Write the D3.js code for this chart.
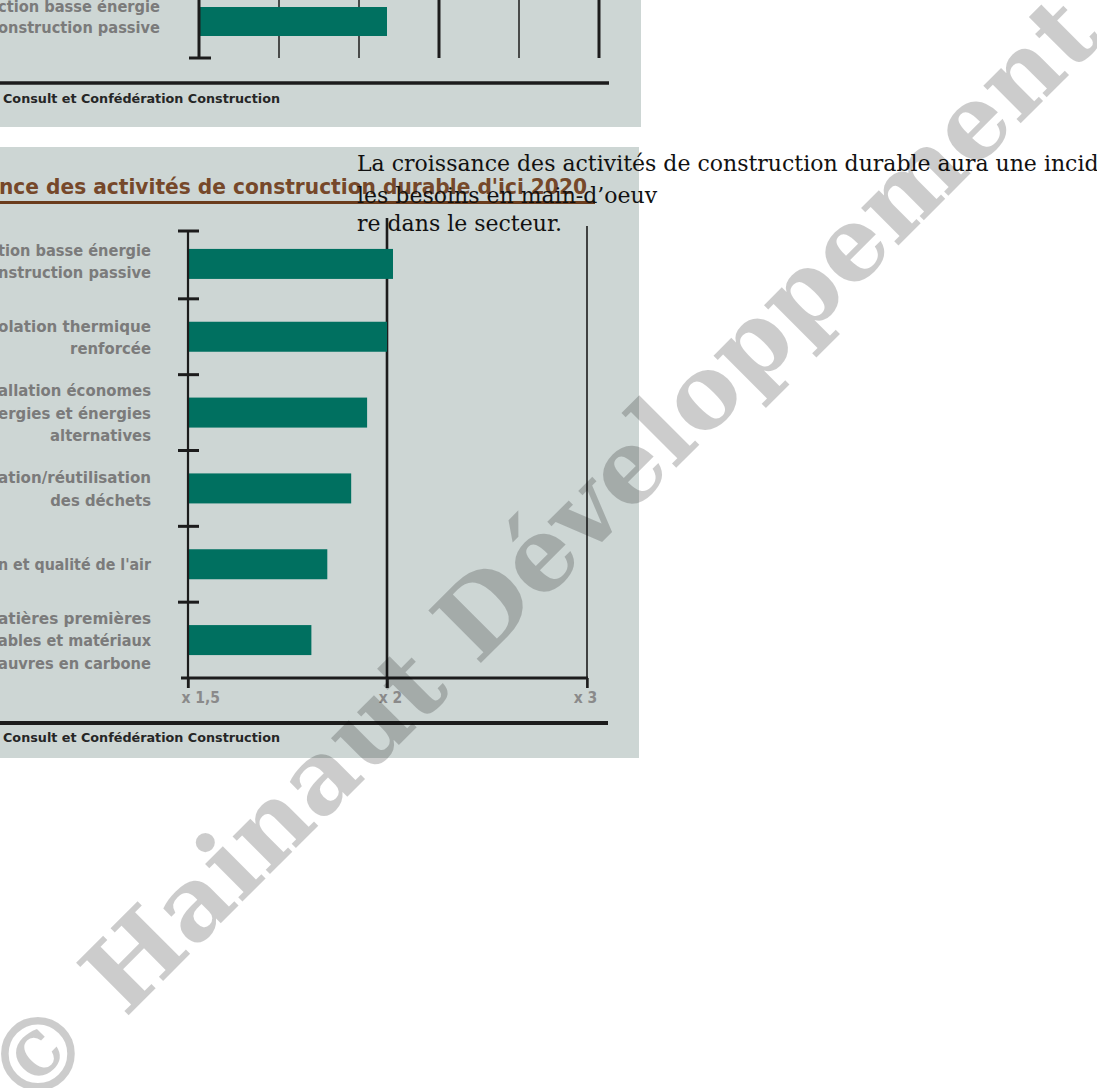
<!DOCTYPE html>
<html><head><meta charset="utf-8">
<script src="https://cdn.jsdelivr.net/npm/d3@7"></script>
<style>html,body{margin:0;padding:0;background:#fff;overflow:hidden}</style>
</head><body>
<svg id="c" width="1097" height="1088"></svg>
<script>
// ---- data ----
const categories = [
  "Construction basse énergie et construction passive",
  "Isolation thermique renforcée",
  "Installation économes en énergies et énergies alternatives",
  "Récupération/réutilisation des déchets",
  "Ventilation et qualité de l'air",
  "Matières premières renouvelables et matériaux pauvres en carbone"
];
const labelLines = [
  ["tion basse énergie", "nstruction passive"],
  ["olation thermique", "renforcée"],
  ["allation économes", "ergies et énergies", "alternatives"],
  ["ation/réutilisation", "des déchets"],
  ["n et qualité de l'air"],
  ["atières premières", "ables et matériaux", "auvres en carbone"]
];
const values = [2.03, 2.0, 1.95, 1.91, 1.85, 1.81];
const xTickValues = [1.5, 2, 3];
const xTickLabels = ["x 1,5", "x 2", "x 3"];

const topLabelLines = ["ction basse énergie", "onstruction passive"];
const topValue = 2.35;
const topGridValues = [1, 2, 3, 4, 5];
const topMajorGrid = [3, 5];

const titleText = "nce des activités de construction durable d'ici 2020";
const sourceText = "Consult et Confédération Construction";
const overlayLines = [
  "La croissance des activités de construction durable aura une incid",
  "les besoins en main-d\u2019oeuv",
  "re dans le secteur."
];
const watermarkText = "© Hainaut Développement";

// ---- styles ----
const BG = "#cdd6d4", BAR = "#007060", INK = "#1c1c1c", LABEL = "#7b7b7b", BROWN = "#76482a";
const COND = "'DejaVu Sans Condensed','Liberation Sans Narrow','DejaVu Sans',sans-serif";
const svg = d3.select("#c");

// ---- top panel (cropped chart) ----
const topG = svg.append("g");
topG.append("rect").attr("x", 0).attr("y", 0).attr("width", 641).attr("height", 127).attr("fill", BG);
const xt = d3.scaleLinear().domain([0, 5]).range([199, 599]);
topG.selectAll("line.grid").data(topGridValues).join("line")
  .attr("x1", d => xt(d)).attr("x2", d => xt(d)).attr("y1", 0).attr("y2", 58)
  .attr("stroke", INK).attr("stroke-width", d => topMajorGrid.includes(d) ? 3 : 1.5);
topG.append("rect").attr("x", xt(0)).attr("y", 7).attr("width", xt(topValue) - xt(0)).attr("height", 29).attr("fill", BAR);
topG.append("line").attr("x1", xt(0)).attr("x2", xt(0)).attr("y1", 0).attr("y2", 58).attr("stroke", INK).attr("stroke-width", 3);
topG.append("line").attr("x1", xt(0) - 10).attr("x2", xt(0) + 12).attr("y1", 58).attr("y2", 58).attr("stroke", INK).attr("stroke-width", 3);
topG.selectAll("text.lab").data(topLabelLines).join("text")
  .attr("class", "lab").attr("x", 160).attr("y", (d, i) => 12 + i * 21)
  .attr("text-anchor", "end").attr("font-family", COND).attr("font-weight", "bold")
  .attr("font-size", 16.5).attr("fill", LABEL).text(d => d)
  .each(function() { const w = this.getComputedTextLength(); if (w > 0.75 * 160) d3.select(this).attr("textLength", 162).attr("lengthAdjust", "spacingAndGlyphs"); });
topG.append("line").attr("x1", 0).attr("x2", 609).attr("y1", 83).attr("y2", 83).attr("stroke", INK).attr("stroke-width", 3.5);
topG.append("text").attr("x", 3).attr("y", 103).attr("font-family", COND).attr("font-weight", "bold")
  .attr("font-size", 12.5).attr("fill", "#262626").attr("textLength", 277).attr("lengthAdjust", "spacingAndGlyphs").text(sourceText);

// ---- main panel ----
const g = svg.append("g");
g.append("rect").attr("x", 0).attr("y", 147).attr("width", 639).attr("height", 611).attr("fill", BG);
g.append("text").attr("x", -1).attr("y", 194).attr("font-family", COND).attr("font-weight", "bold")
  .attr("font-size", 22).attr("fill", BROWN).attr("textLength", 588).attr("lengthAdjust", "spacingAndGlyphs").text(titleText);
g.append("line").attr("x1", 0).attr("x2", 595).attr("y1", 202.5).attr("y2", 202.5).attr("stroke", "#6a3c1c").attr("stroke-width", 3);

const x = d3.scaleLinear().domain([1.5, 2, 3]).range([188, 387, 587]);
const y = d3.scaleBand().domain(categories).range([223, 678]);
const barH = 30;
const axisTop = 231;
const gridTops = [218, 226];

// vertical grid lines at x2 and x3
g.selectAll("line.vgrid").data(xTickValues.slice(1)).join("line")
  .attr("x1", d => x(d)).attr("x2", d => x(d)).attr("y1", (d, i) => gridTops[i]).attr("y2", 688)
  .attr("stroke", INK).attr("stroke-width", (d, i) => i === 0 ? 2.6 : 1.6);

// bars
g.selectAll("rect.bar").data(values).join("rect")
  .attr("x", x(1.5)).attr("y", (d, i) => y(categories[i]) + (y.bandwidth() - barH) / 2 + (i === 0 ? 3 : 0))
  .attr("width", d => x(d) - x(1.5)).attr("height", barH).attr("fill", BAR);

// y axis line and boundary ticks
g.append("line").attr("x1", x(1.5)).attr("x2", x(1.5)).attr("y1", axisTop).attr("y2", 688).attr("stroke", INK).attr("stroke-width", 2.2);
g.selectAll("line.ytick").data(categories).join("line")
  .attr("x1", x(1.5) - 10).attr("x2", x(1.5) + 11).attr("y1", (d, i) => i === 0 ? axisTop : y(d)).attr("y2", (d, i) => i === 0 ? axisTop : y(d))
  .attr("stroke", INK).attr("stroke-width", 3);

// x axis
const xAxis = d3.axisBottom(x).tickValues(xTickValues).tickFormat((d, i) => xTickLabels[i]).tickSize(10).tickPadding(4);
const ax = g.append("g").attr("transform", `translate(0,${y.range()[1]})`).call(xAxis);
ax.select(".domain").remove();
ax.selectAll(".tick line").attr("stroke", INK).attr("stroke-width", 2.4);
ax.selectAll(".tick text").attr("font-family", COND).attr("font-weight", "bold").attr("font-size", 15.5)
  .attr("fill", "#8a8a8a")
  .attr("text-anchor", (d, i) => i === 0 ? "start" : "middle")
  .attr("dx", (d, i) => i === 0 ? -7 : (i === 1 ? 3 : -2));
g.append("line").attr("x1", x(1.5) - 7).attr("x2", x(3) + 1).attr("y1", y.range()[1]).attr("y2", y.range()[1]).attr("stroke", INK).attr("stroke-width", 3);

// category labels
labelLines.forEach((lines, i) => {
  const cy = y(categories[i]) + y.bandwidth() / 2;
  const n = lines.length;
  g.selectAll(null).data(lines).join("text")
    .attr("x", 151).attr("y", (d, j) => cy + (j - (n - 1) / 2) * 22.5 + 6)
    .attr("text-anchor", "end").attr("font-family", COND).attr("font-weight", "bold")
    .attr("font-size", 16.5).attr("fill", LABEL).text(d => d)
    .each(function() { const w = this.getComputedTextLength(); if (w > 0.75 * 151) d3.select(this).attr("textLength", 153).attr("lengthAdjust", "spacingAndGlyphs"); });
});

// source
g.append("line").attr("x1", 0).attr("x2", 608).attr("y1", 723).attr("y2", 723).attr("stroke", INK).attr("stroke-width", 4);
g.append("text").attr("x", 3).attr("y", 741.5).attr("font-family", COND).attr("font-weight", "bold")
  .attr("font-size", 12.5).attr("fill", "#262626").attr("textLength", 277).attr("lengthAdjust", "spacingAndGlyphs").text(sourceText);

// overlay paragraph text
const ovBaselines = [171, 203, 231];
svg.selectAll("text.ov").data(overlayLines).join("text")
  .attr("class", "ov").attr("x", 357).attr("y", (d, i) => ovBaselines[i])
  .attr("font-family", "'DejaVu Serif',serif").attr("font-size", 22).attr("fill", "#111").text(d => d);

// watermark
svg.append("text").attr("transform", "translate(566,578) rotate(-45)")
  .attr("text-anchor", "middle").attr("font-family", "'DejaVu Serif',serif").attr("font-weight", "bold")
  .attr("font-size", 102).attr("fill", "#000").attr("fill-opacity", 0.2).text(watermarkText);
</script>
</body></html>
